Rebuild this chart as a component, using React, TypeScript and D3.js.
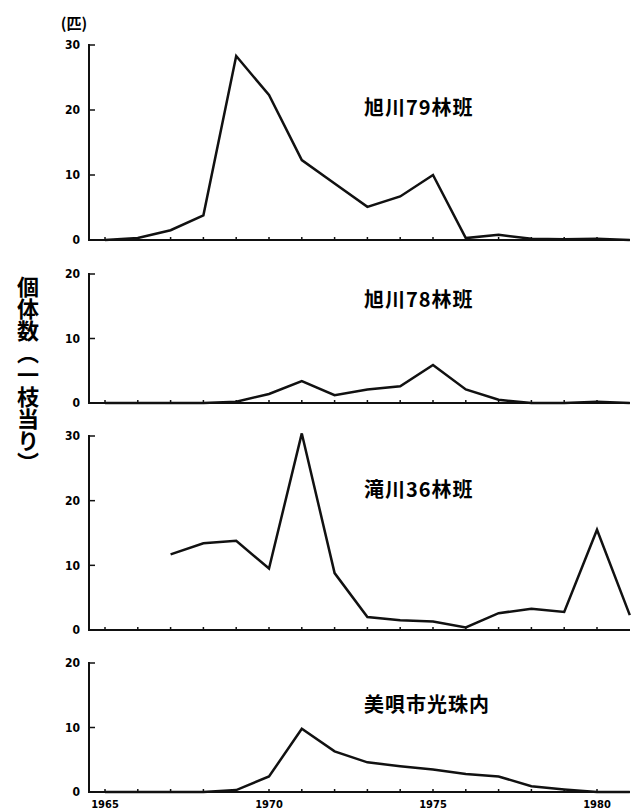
import * as d3 from "d3";

// years on the shared x axis
const years = [1965, 1966, 1967, 1968, 1969, 1970, 1971, 1972, 1973, 1974, 1975, 1976, 1977, 1978, 1979, 1980, 1981];
const yearLabels = [1965, 1970, 1975, 1980];

// individuals per branch, one array per site
const asahikawa79 = [0, 0.3, 1.5, 3.8, 28.3, 22.3, 12.3, 8.7, 5.1, 6.7, 10, 0.3, 0.8, 0.2, 0.1, 0.2, 0];
const asahikawa78 = [0, 0, 0, 0, 0.2, 1.4, 3.4, 1.2, 2.1, 2.6, 5.9, 2.1, 0.5, 0, 0, 0.2, 0];
const takikawa36 = [null, null, 11.7, 13.4, 13.8, 9.5, 30.4, 8.8, 2.0, 1.5, 1.3, 0.4, 2.6, 3.3, 2.8, 15.5, 2.3];
const bibai = [0, 0, 0, 0, 0.3, 2.4, 9.8, 6.3, 4.6, 4.0, 3.5, 2.8, 2.4, 0.9, 0.4, 0, 0];

const siteNames = ["旭川79林班", "旭川78林班", "滝川36林班", "美唄市光珠内"];
const siteMax = [30, 20, 30, 20];
const yTicks30 = [0, 10, 20, 30];
const yTicks20 = [0, 10, 20];

const width = 633;
const height = 812;
const axisX = 89;
const axisRight = 630;

// layout of each panel: baseline and top of value axis, label position
const panels = [
  { values: asahikawa79, y0: 240, y1: 45, labelY: 108 },
  { values: asahikawa78, y0: 403, y1: 274, labelY: 300 },
  { values: takikawa36, y0: 630, y1: 436, labelY: 490 },
  { values: bibai, y0: 792, y1: 663, labelY: 705 },
];

const cjk = "'Noto Sans CJK JP', 'Noto Sans CJK SC', sans-serif";
const numFont = "'Liberation Sans Narrow', 'DejaVu Sans Condensed', 'Liberation Sans', sans-serif";

const xScale = d3.scaleLinear().domain([1965, 1980]).range([105, 597]);

const App = () => {
  return (
    <svg
      width={width}
      height={height}
      style={{ position: "absolute", left: 0, top: 0, background: "#fff" }}
    >
      <text x={74} y={29} textAnchor="middle" fontFamily={cjk} fontWeight="bold" fontSize={15}>
        (匹)
      </text>
      <text
        x={28}
        y={276}
        fontFamily={cjk}
        fontWeight="bold"
        fontSize={22}
        style={{ writingMode: "vertical-rl" }}
      >
        個体数（一枝当り）
      </text>
      {panels.map((p, i) => {
        const yScale = d3.scaleLinear().domain([0, siteMax[i]]).range([p.y0, p.y1]);
        const ticks = siteMax[i] === 30 ? yTicks30 : yTicks20;
        const line = d3
          .line<number | null>()
          .defined((d) => d !== null)
          .x((d, j) => xScale(years[j]))
          .y((d) => yScale(d as number));
        return (
          <g key={i}>
            <line x1={axisX} x2={axisX} y1={p.y1 - 1} y2={p.y0 + 1} stroke="#111" strokeWidth={2} />
            <line x1={axisX} x2={axisRight} y1={p.y0} y2={p.y0} stroke="#111" strokeWidth={2} />
            {ticks.map((t) => (
              <g key={t} transform={`translate(${axisX},${yScale(t)})`}>
                <line x1={0} x2={6} stroke="#111" strokeWidth={1.5} />
                <text
                  x={-9}
                  dy="0.35em"
                  textAnchor="end"
                  fontFamily={numFont}
                  fontWeight="bold"
                  fontSize={12}
                >
                  {t}
                </text>
              </g>
            ))}
            {years.slice(0, 16).map((yr) => (
              <line
                key={yr}
                x1={xScale(yr)}
                x2={xScale(yr)}
                y1={p.y0}
                y2={p.y0 - 3}
                stroke="#111"
                strokeWidth={1.5}
              />
            ))}
            <path
              d={line(p.values) || ""}
              fill="none"
              stroke="#111"
              strokeWidth={2.5}
              strokeLinejoin="miter"
            />
            <text
              x={364}
              y={p.labelY}
              dy="0.35em"
              fontFamily={cjk}
              fontWeight="bold"
              fontSize={20}
              letterSpacing={1}
            >
              {siteNames[i]}
            </text>
            {i === panels.length - 1 &&
              yearLabels.map((yr) => (
                <text
                  key={yr}
                  x={xScale(yr)}
                  y={p.y0 + 16}
                  textAnchor="middle"
                  fontFamily={numFont}
                  fontWeight="bold"
                  fontSize={11}
                >
                  {yr}
                </text>
              ))}
          </g>
        );
      })}
    </svg>
  );
};

export default App;
